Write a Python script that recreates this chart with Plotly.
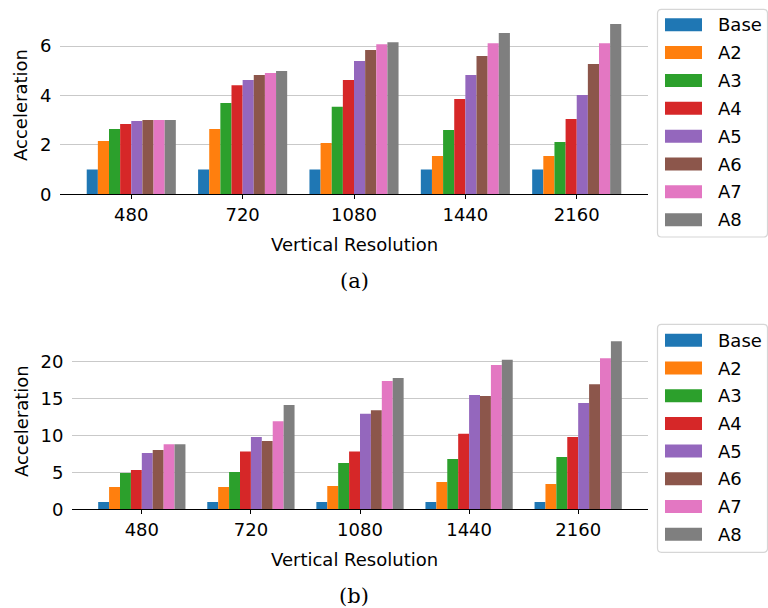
import plotly.graph_objects as go

# Categories (vertical resolution) and series
resolutions = ["480", "720", "1080", "1440", "2160"]
series_names = ["Base", "A2", "A3", "A4", "A5", "A6", "A7", "A8"]
series_colors = ["#1f77b4", "#ff7f0e", "#2ca02c", "#d62728",
                 "#9467bd", "#8c564b", "#e377c2", "#7f7f7f"]

# Panel (a): acceleration per configuration
a_base = [1.00, 1.00, 1.00, 1.00, 1.00]
a_a2 = [2.16, 2.64, 2.08, 1.55, 1.55]
a_a3 = [2.64, 3.70, 3.54, 2.60, 2.12]
a_a4 = [2.85, 4.42, 4.63, 3.86, 3.05]
a_a5 = [2.97, 4.63, 5.40, 4.83, 4.02]
a_a6 = [3.01, 4.83, 5.84, 5.60, 5.28]
a_a7 = [3.01, 4.91, 6.08, 6.12, 6.12]
a_a8 = [3.01, 4.99, 6.16, 6.53, 6.89]

# Panel (b): acceleration per configuration
b_base = [1.00, 1.00, 1.00, 1.00, 1.00]
b_a2 = [3.01, 3.00, 3.15, 3.70, 3.42]
b_a3 = [4.90, 5.04, 6.26, 6.80, 7.06]
b_a4 = [5.30, 7.80, 7.80, 10.20, 9.77]
b_a5 = [7.60, 9.77, 12.90, 15.45, 14.36]
b_a6 = [8.00, 9.23, 13.40, 15.30, 16.90]
b_a7 = [8.80, 11.90, 17.35, 19.50, 20.40]
b_a8 = [8.80, 14.10, 17.75, 20.20, 22.70]

a_tick_vals = [0, 2, 4, 6]
b_tick_vals = [0, 5, 10, 15, 20]

panel_a = [a_base, a_a2, a_a3, a_a4, a_a5, a_a6, a_a7, a_a8]
panel_b = [b_base, b_a2, b_a3, b_a4, b_a5, b_a6, b_a7, b_a8]

W, H = 768, 608
FONT = "DejaVu Sans"
FS = 18


def fx(px):
    return px / W


def fy(py):
    return 1 - py / H


fig = go.Figure()

for name, color, ya, yb in zip(series_names, series_colors, panel_a, panel_b):
    fig.add_trace(go.Bar(x=resolutions, y=ya, name=name, marker_color=color,
                         marker_line_width=0, showlegend=False,
                         xaxis="x", yaxis="y"))
    fig.add_trace(go.Bar(x=resolutions, y=yb, name=name, marker_color=color,
                         marker_line_width=0, showlegend=False,
                         xaxis="x2", yaxis="y2"))

ymax_a = max(max(s) for s in panel_a) * 1.05
ymax_b = max(max(s) for s in panel_b) * 1.05

# plot-area geometry in pixels
A_LEFT, A_RIGHT, A_BASE = 60, 648, 194.3
B_LEFT, B_RIGHT, B_BASE = 72, 648, 509.3
A_TOP = A_BASE - ymax_a * 24.7
B_TOP = B_BASE - ymax_b * 7.4

common_x = dict(type="category", range=[-0.64, 4.64], showgrid=False,
                showline=True, linecolor="black", linewidth=1.3,
                ticks="outside", ticklen=4, tickwidth=1.2, tickcolor="black",
                tickfont=dict(family=FONT, size=FS, color="black"),
                zeroline=False, fixedrange=True, automargin=False)
common_y = dict(showgrid=True, gridcolor="#c9c9c9", gridwidth=1.4,
                showline=False, zeroline=False, ticks="outside", ticklen=4,
                tickcolor="rgba(0,0,0,0)",
                tickfont=dict(family=FONT, size=FS, color="black"),
                fixedrange=True, automargin=False)

fig.update_layout(
    template="none",
    width=W, height=H,
    margin=dict(l=0, r=0, t=0, b=0, pad=0),
    paper_bgcolor="white", plot_bgcolor="white",
    barmode="group", bargap=0.2, bargroupgap=0,
    xaxis=dict(common_x, domain=[fx(A_LEFT), fx(A_RIGHT)], anchor="y"),
    yaxis=dict(common_y, domain=[fy(A_BASE), fy(A_TOP)], anchor="x",
               range=[0, ymax_a], tickvals=a_tick_vals),
    xaxis2=dict(common_x, domain=[fx(B_LEFT), fx(B_RIGHT)], anchor="y2"),
    yaxis2=dict(common_y, domain=[fy(B_BASE), fy(B_TOP)], anchor="x2",
                range=[0, ymax_b], tickvals=b_tick_vals),
)

annotations = []
shapes = []


def text(px, py, s, size=FS, family=FONT, angle=0, xanchor="center"):
    annotations.append(dict(x=fx(px), y=fy(py), xref="paper", yref="paper",
                            text=s, showarrow=False, textangle=angle,
                            xanchor=xanchor, yanchor="middle",
                            font=dict(family=family, size=size, color="black")))


# axis titles and captions
for base, top, left, right, cap in [(A_BASE, A_TOP, A_LEFT, A_RIGHT, "(a)"),
                                     (B_BASE, B_TOP, B_LEFT, B_RIGHT, "(b)")]:
    text(354, base + 50, "Vertical Resolution")
    text(21, (base + top) / 2, "Acceleration", angle=-90)
    text(354, base + 86.5, cap, size=21, family="DejaVu Serif")


def rounded_box(x0, y0, x1, y1, r):
    pts = [("M", [(x0 + r, y0)]), ("L", [(x1 - r, y0)]),
           ("Q", [(x1, y0), (x1, y0 + r)]), ("L", [(x1, y1 - r)]),
           ("Q", [(x1, y1), (x1 - r, y1)]), ("L", [(x0 + r, y1)]),
           ("Q", [(x0, y1), (x0, y1 - r)]), ("L", [(x0, y0 + r)]),
           ("Q", [(x0, y0), (x0 + r, y0)])]
    path = ""
    for cmd, coords in pts:
        path += cmd + " ".join(f"{fx(a):.5f},{fy(b):.5f}" for a, b in coords) + " "
    return path + "Z"


# legends, one per panel
for box_top, box_bot, first_y, step in [(9.3, 237.0, 24.7, 27.86),
                                        (324.3, 552.3, 340.3, 27.7)]:
    shapes.append(dict(type="path", xref="paper", yref="paper",
                       path=rounded_box(657.5, box_top, 767.5, box_bot, 4),
                       line=dict(color="#d6d6d6", width=1.2),
                       fillcolor="rgba(255,255,255,0.8)", layer="above"))
    for i, (name, color) in enumerate(zip(series_names, series_colors)):
        cy = first_y + i * step
        shapes.append(dict(type="rect", xref="paper", yref="paper",
                           x0=fx(665), x1=fx(702), y0=fy(cy - 6.5), y1=fy(cy + 6.5),
                           line=dict(width=0), fillcolor=color, layer="above"))
        text(716, cy, name, xanchor="left")

fig.update_layout(annotations=annotations, shapes=shapes)

fig.write_html("out.html")
